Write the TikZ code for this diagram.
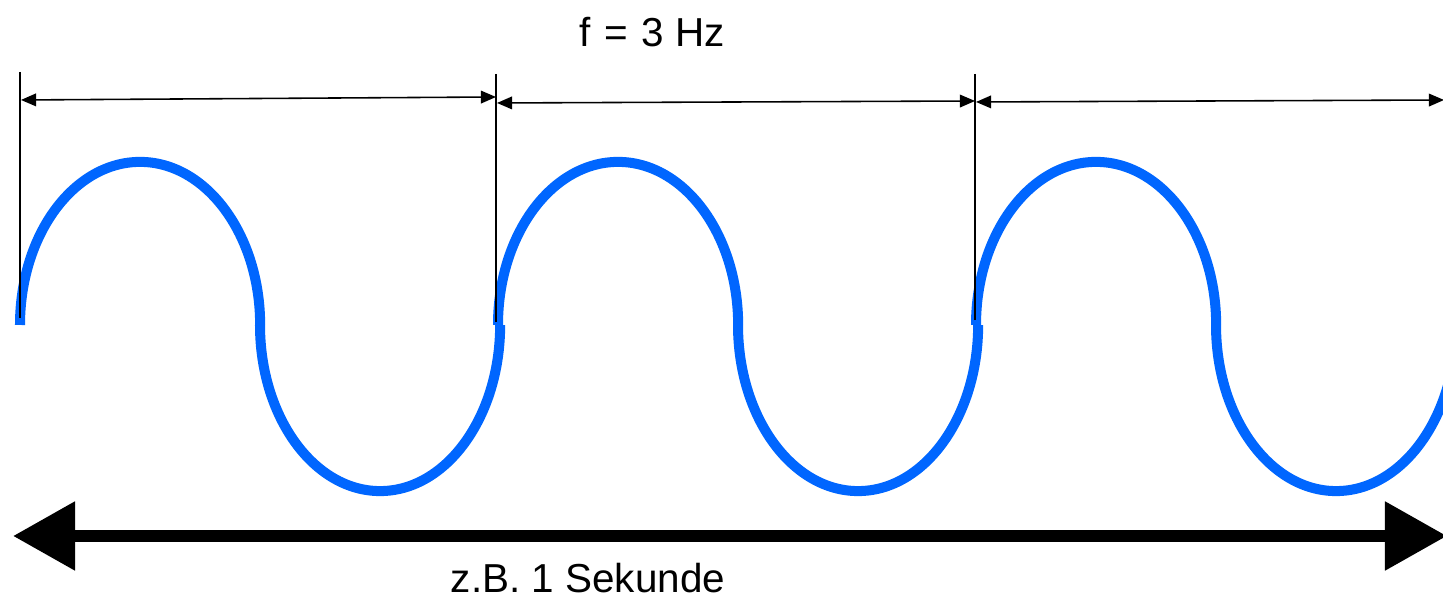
\documentclass[tikz,border=0pt]{standalone}
\usepackage{fontspec}
\setmainfont{Liberation Sans}
\usepackage{tikz}
\usetikzlibrary{arrows.meta}
\usepackage{xcolor}
\definecolor{cwave}{RGB}{0,102,255}
\tikzset{
  wave/.style={draw=cwave, line width=2.85pt, line cap=butt},
  tick/.style={draw=black, line width=0.45pt},
  dim/.style={{Triangle[length=4.3pt,width=3.6pt]}-{Triangle[length=4.3pt,width=3.6pt]}, line width=0.45pt},
  span/.style={{Triangle[length=0.62cm,width=0.66cm]}-{Triangle[length=0.62cm,width=0.66cm]}, line width=3.4pt},
  lbl/.style={font=\fontsize{11.5}{14}\selectfont, inner sep=0pt}
}

\begin{document}
\begin{tikzpicture}[x=0.01cm, y=0.01cm]
  \useasboundingbox (0,0) rectangle (1443,598);
  \clip (0,0) rectangle (1443,598);

  % sine wave, three periods
  \foreach \s in {20,498,976} {
    \draw[wave] (\s,273) arc[start angle=180, end angle=0, x radius=1.2cm, y radius=1.63cm];
    \draw[wave] (\s+240,273) arc[start angle=180, end angle=360, x radius=1.2cm, y radius=1.66cm];
  }

  % period marks
  \coordinate (t0) at (20,526);  \coordinate (b0) at (20,280);
  \coordinate (t1) at (496,524); \coordinate (b1) at (496,276);
  \coordinate (t2) at (975,524); \coordinate (b2) at (975,278);
  \draw[tick] (t0) -- (b0);
  \draw[tick] (t1) -- (b1);
  \draw[tick] (t2) -- (b2);

  \coordinate (p0l) at (21,498);  \coordinate (p0r) at (496,501);
  \coordinate (p1l) at (497,495); \coordinate (p1r) at (975,497);
  \coordinate (p2l) at (976,496); \coordinate (p2r) at (1444,498);
  \draw[dim] (p0l) -- (p0r);
  \draw[dim] (p1l) -- (p1r);
  \draw[dim] (p2l) -- (p2r);

  % one second
  \coordinate (sl) at (13,62);
  \coordinate (sr) at (1447,62);
  \draw[span] (sl) -- (sr);

  \node[lbl] (freq) at (652,566) {f\,\,=\,\,3 Hz};
  \node[lbl, anchor=base] (dur) at (588,5) {z.B. 1 Sekunde};
\end{tikzpicture}
\end{document}
